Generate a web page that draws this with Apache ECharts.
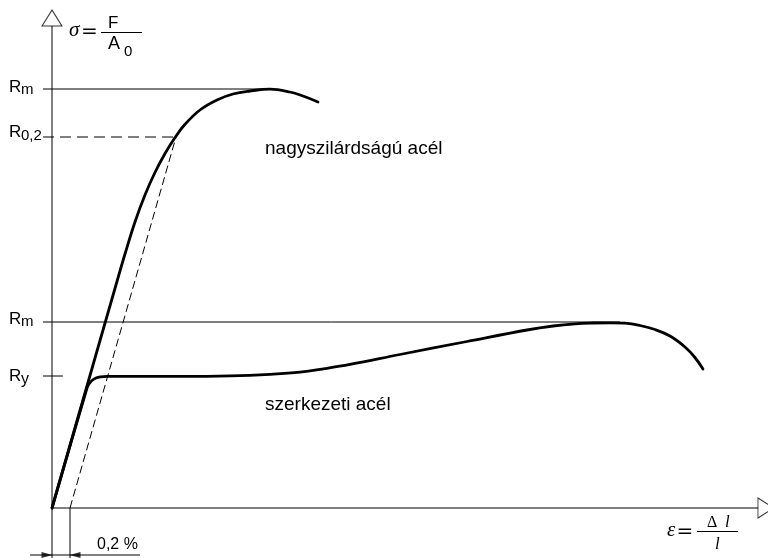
<!DOCTYPE html>
<html><head><meta charset="utf-8">
<script src="https://cdn.jsdelivr.net/npm/echarts@6/dist/echarts.min.js"></script>
<style>html,body{margin:0;padding:0;background:#fff}#c{width:768px;height:558px}</style>
</head><body><div id="c"></div>
<script>
// ---------- data (strain in %, stress in MPa, schematic) ----------
const structuralStrain = [0, 0.389, 0.411, 0.444, 0.489, 0.544, 0.611, 1.422, 1.978, 2.422, 2.756, 3.033, 3.311, 3.867, 4.611, 5.278, 5.567, 5.811, 6.011, 6.2, 6.367, 6.533, 6.7, 6.867, 7.033, 7.144, 7.233];
const structuralStress = [0, 240, 248, 255, 260, 262.4, 263.4, 263.4, 264.4, 267.4, 271.6, 278.8, 287.2, 307, 333, 356, 364, 368.4, 370, 370.4, 369.6, 365, 357, 344, 322, 301, 278];
const highStrain = [0, 0.733, 0.811, 0.922, 1.033, 1.144, 1.256, 1.367, 1.478, 1.644, 1.833, 2.011, 2.2, 2.422, 2.644, 2.789, 2.956];
const highStress = [0, 460, 508, 572, 626, 671, 709, 741, 767.4, 796, 816, 828, 834, 837.6, 832, 824, 812];
const levelStress = [838, 742, 372, 264];        // Rm (high), R0,2, Rm (structural), Ry
const levelEndStrain = [2.422, 1.378, 6.311, 0.122];
const levelDashed = [false, true, false, false];
const offsetStrain = 0.2;                          // 0,2 % offset
const offsetLineEnd = [1.378, 742];
const axisEnds = { strain: 7.844, stress: 964 };
const arrowAt = { strain: 7.933, stress: 980 };
const dimStress = -94;
const dimSpan = [-0.244, 0.978];
const extensionBottom = -100;
const levelStart = -0.1;

// ---------- layout ----------
const W = 768, H = 558, ORIGIN = [52, 508], PX_PER_PCT = 90, MPA_PER_PX = 2;
const pair = (xs, ys) => xs.map((x, i) => [x, ys[i]]);
const thin = (dashed) => ({ color: '#000', width: 1, type: dashed ? [11, 6] : 'solid' });
const lineSeries = (data, ls, z) => ({ type: 'line', data, symbol: 'none', silent: true, clip: false, animation: false, lineStyle: ls, z: z || 2 });

const series = [];
series.push(lineSeries([[0, extensionBottom], [0, axisEnds.stress]], thin(false)));
series.push(lineSeries([[0, 0], [axisEnds.strain, 0]], thin(false)));
levelStress.forEach((s, i) => series.push(lineSeries([[levelStart, s], [levelEndStrain[i], s]], thin(levelDashed[i]))));
series.push(lineSeries([[offsetStrain, 0], offsetLineEnd], { color: '#000', width: 1, type: [8, 4] }));
series.push(lineSeries([[offsetStrain, 0], [offsetStrain, extensionBottom]], thin(false)));
series.push(lineSeries([[dimSpan[0], dimStress], [dimSpan[1], dimStress]], thin(false)));
series.push({ type: 'scatter', silent: true, animation: false, clip: false, z: 3,
  data: [
    { value: [0, dimStress], symbolRotate: -90, symbolOffset: [-5, 0] },
    { value: [offsetStrain, dimStress], symbolRotate: 90, symbolOffset: [5, 0] }
  ],
  symbol: 'triangle', symbolSize: [6, 11], itemStyle: { color: '#000' } });
series.push({ type: 'scatter', silent: true, animation: false, clip: false, z: 3,
  data: [
    { value: [0, arrowAt.stress], symbolRotate: 0 },
    { value: [arrowAt.strain, 0], symbolRotate: -90 }
  ],
  symbol: 'triangle', symbolSize: [20, 16], itemStyle: { color: '#fff', borderColor: '#000', borderWidth: 1 } });
const curveStyle = { color: '#000', width: 2.8, cap: 'round', join: 'round' };
series.push({ type: 'line', name: 'szerkezeti acél', data: pair(structuralStrain, structuralStress), smooth: 0.4,
  symbol: 'none', showSymbol: false, silent: true, animation: false, clip: false, lineStyle: curveStyle, z: 4 });
series.push({ type: 'line', name: 'nagyszilárdságú acél', data: pair(highStrain, highStress), smooth: 0.4,
  symbol: 'none', showSymbol: false, silent: true, animation: false, clip: false, lineStyle: curveStyle, z: 4 });

// ---------- texts ----------
const SANS = '"Liberation Sans", Arial, sans-serif';
const SERIF = '"Liberation Serif", "Times New Roman", serif';
const DEJAVU = '"DejaVu Sans", sans-serif';
function txt(text, x, base, fs, opt) {
  opt = opt || {};
  const fam = opt.fam || (opt.serif ? SERIF : SANS);
  const k = opt.serif ? 0.34 : 0.35;
  return { type: 'text', silent: true, z: 10,
    style: { text, x, y: base - k * fs, font: (opt.italic ? 'italic ' : '') + fs + 'px ' + fam,
      fill: '#000', align: opt.align || 'left', verticalAlign: 'middle' } };
}
function bar(x1, x2, y) {
  return { type: 'line', silent: true, z: 10, shape: { x1, y1: y, x2, y2: y }, style: { stroke: '#000', lineWidth: 1 } };
}
const graphic = [
  txt('R', 9, 93.5, 17), txt('m', 21, 95, 15),
  txt('R', 9, 138, 17), txt('0,2', 21, 141, 15),
  txt('R', 9, 325, 17), txt('m', 21, 327, 15),
  txt('R', 9, 382, 17), txt('y', 21, 385, 16),
  txt('nagyszilárdságú acél', 265, 155, 19),
  txt('szerkezeti acél', 265, 411, 19),
  txt('0,2 %', 97, 550, 16),
  txt('σ', 69, 38, 21, { serif: true, italic: true }),
  txt('=', 89.5, 39, 20, { align: 'center', fam: DEJAVU }),
  bar(101, 142, 32.5),
  txt('F', 108, 29, 17),
  txt('A', 108, 50, 18), txt('0', 124, 57, 15),
  txt('ε', 667, 538, 21, { serif: true, italic: true }),
  txt('=', 685, 538.5, 20, { align: 'center', fam: DEJAVU }),
  bar(697, 738, 531.5),
  txt('Δ', 707, 528, 16, { serif: true }),
  txt('l', 725, 528, 17, { serif: true, italic: true }),
  txt('l', 715, 550, 17, { serif: true, italic: true })
];

const chart = echarts.init(document.getElementById('c'), null, { renderer: 'canvas' });
chart.setOption({
  backgroundColor: '#fff',
  animation: false,
  grid: { left: 0, top: 0, right: 0, bottom: 0, containLabel: false },
  xAxis: { type: 'value', min: -ORIGIN[0] / PX_PER_PCT, max: (W - ORIGIN[0]) / PX_PER_PCT, show: false },
  yAxis: { type: 'value', min: -(H - ORIGIN[1]) * MPA_PER_PX, max: ORIGIN[1] * MPA_PER_PX, show: false },
  series,
  graphic
});
</script></body></html>
